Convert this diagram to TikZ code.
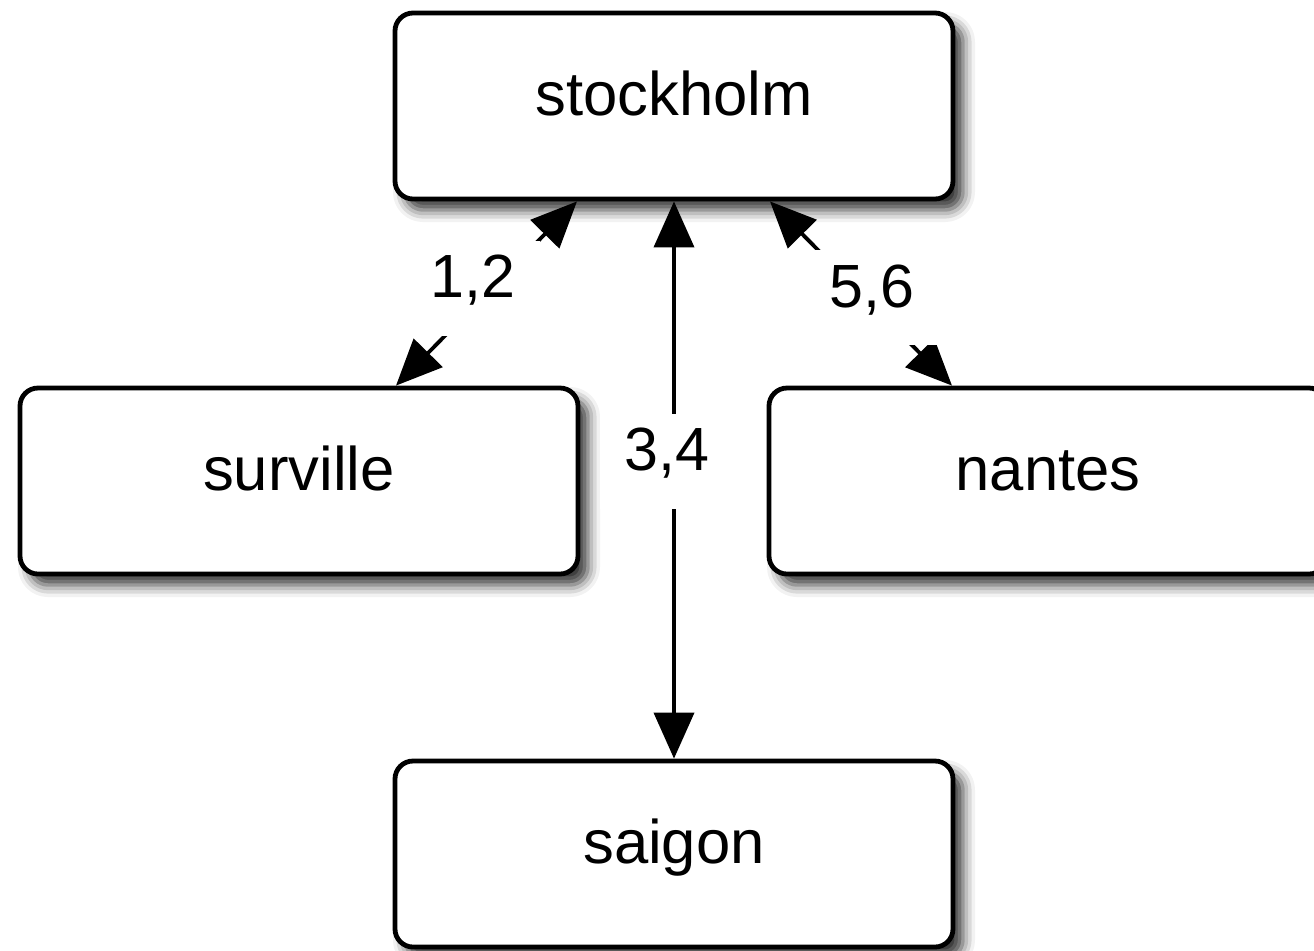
\documentclass[tikz,border=0pt]{standalone}
\usepackage{fontspec}
\setmainfont{Liberation Sans}
\usetikzlibrary{arrows.meta,shadows.blur,calc}

\begin{document}
\begin{tikzpicture}[x=0.5pt,y=-0.5pt,
  city/.style={draw, line width=2.4pt, rounded corners=9pt, fill=white,
    minimum width=279pt, minimum height=93pt, inner sep=0pt,
    text height=22pt, text depth=13pt,
    font=\fontsize{30.8pt}{36pt}\selectfont,
    blur shadow={shadow xshift=5pt, shadow yshift=-5.5pt,
      shadow blur radius=6pt, shadow opacity=80}},
  link/.style={line width=1.9pt,
    {Triangle[length=23pt,width=20pt]}-{Triangle[length=23pt,width=20pt]}},
  lbl/.style={fill=white, minimum width=67pt, minimum height=47.5pt,
    text height=21.5pt, text depth=12pt, inner sep=0pt,
    font=\fontsize{30.5pt}{36pt}\selectfont}
]
\clip (0,0) rectangle (1314,950);

% city boxes
\node[city] (stockholm) at (674,106) {stockholm};
\node[city] (surville)  at (299,481) {surville};
\node[city] (nantes)    at (1048,481) {nantes};
\node[city] (saigon)    at (674,854) {saigon};

% two-way links with their labels
\draw[link] ($(stockholm.south)+(-97,0)$) --
  node[lbl, xshift=-6.75pt, yshift=2.75pt] {1,2}
  ($(surville.north)+(97,0)$);
\draw[link] (stockholm.south) --
  node[lbl, xshift=-3.5pt, yshift=9.5pt] {3,4}
  (saigon.north);
\draw[link] ($(stockholm.south)+(96,0)$) --
  node[lbl, xshift=5.5pt, yshift=-2pt] {5,6}
  ($(nantes.north)+(-96,0)$);
\end{tikzpicture}
\end{document}
